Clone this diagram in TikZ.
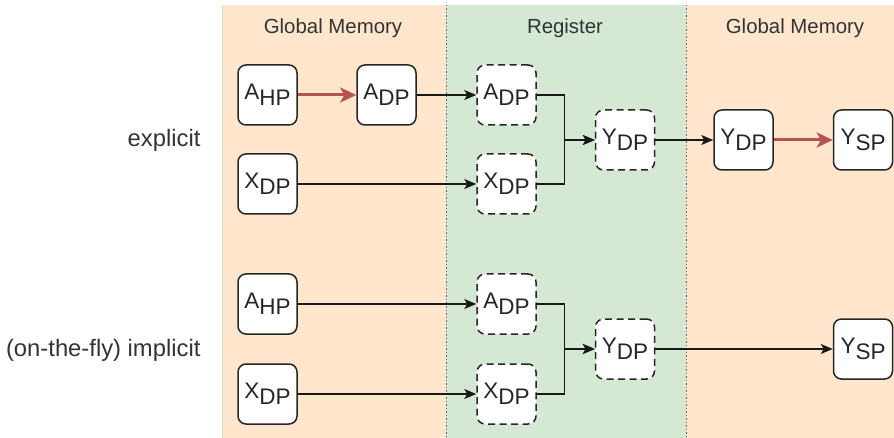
\documentclass[tikz,border=0pt]{standalone}
\usepackage{fontspec}
\setmainfont{Liberation Sans}
\usetikzlibrary{arrows.meta}
\definecolor{memfill}{HTML}{FFE6CC}
\definecolor{regfill}{HTML}{D5E8D4}
\definecolor{castred}{HTML}{B85450}
\definecolor{inkgray}{HTML}{333333}
\definecolor{sepgray}{HTML}{666666}

% value with a lowered (same-size) subscript
\newcommand{\vsub}[2]{#1\raisebox{-6.5pt}{#2}}

\begin{document}
\begin{tikzpicture}[x=1pt,y=-1pt,
  memnode/.style={draw=black!85, fill=white, rounded corners=8pt,
    minimum width=59pt, minimum height=60pt, inner sep=0pt,
    line width=1.5pt, text=black!85, font=\fontsize{22.5}{26}\selectfont},
  regnode/.style={memnode, dash pattern=on 7pt off 4.5pt},
  flow/.style={line width=1.4pt, draw=black!90,
    -{Stealth[length=12pt,width=10pt,inset=3pt]}},
  cast/.style={line width=3pt, draw=castred,
    -{Stealth[length=16pt,width=15pt,inset=4pt]}},
  title/.style={text=inkgray, font=\fontsize{20.4}{24}\selectfont},
  rowlabel/.style={text=inkgray, anchor=east, font=\fontsize{23.8}{28}\selectfont},
  separator/.style={draw=sepgray, line width=1pt, dash pattern=on 1.5pt off 2pt}
]
\useasboundingbox (0,0) rectangle (894,438);

% memory / register lanes
\fill[memfill] (222,5) rectangle (446,438);
\fill[regfill] (446,5) rectangle (686,438);
\fill[memfill] (686,5) rectangle (894,438);
\draw[black!15, line width=0.8pt] (222,5) -- (222,438);
\draw[separator] (446,5) -- (446,438);
\draw[separator] (686,5) -- (686,438);

% lane titles
\node[title] (t1) at (333,28) {Global Memory};
\node[title] (t2) at (565,28) {Register};
\node[title] (t3) at (795,28) {Global Memory};

% row labels
\node[rowlabel] (lex) at (204,140) {explicit};
\node[rowlabel] (lim) at (204,350) {(on-the-fly) implicit};

% explicit conversion
\node[memnode] (eAhp) at (267.5,95)  {\vsub{A}{HP}};
\node[memnode] (eAdp) at (386.5,95)  {\vsub{A}{DP}};
\node[memnode] (eXdp) at (267.5,184) {\vsub{X}{DP}};
\node[regnode] (eRA)  at (506.5,95)  {\vsub{A}{DP}};
\node[regnode] (eRX)  at (506.5,184) {\vsub{X}{DP}};
\node[regnode] (eRY)  at (625,140)   {\vsub{Y}{DP}};
\node[memnode] (eYdp) at (743.5,140) {\vsub{Y}{DP}};
\node[memnode] (eYsp) at (863,140)   {\vsub{Y}{SP}};

\draw[cast] (eAhp) -- (eAdp);
\draw[flow] (eAdp) -- (eRA);
\draw[flow] (eXdp) -- (eRX);
\draw[flow] (eRA.east) -- ++(28,0) |- (eRY.west);
\draw[flow] (eRX.east) -- ++(28,0) |- (eRY.west);
\draw[flow] (eRY) -- (eYdp);
\draw[cast] (eYdp) -- (eYsp);

% on-the-fly conversion
\node[memnode] (iAhp) at (267.5,304) {\vsub{A}{HP}};
\node[memnode] (iXdp) at (267.5,394) {\vsub{X}{DP}};
\node[regnode] (iRA)  at (506.5,304) {\vsub{A}{DP}};
\node[regnode] (iRX)  at (506.5,394) {\vsub{X}{DP}};
\node[regnode] (iRY)  at (625,349)   {\vsub{Y}{DP}};
\node[memnode] (iYsp) at (863,349)   {\vsub{Y}{SP}};

\draw[flow] (iAhp) -- (iRA);
\draw[flow] (iXdp) -- (iRX);
\draw[flow] (iRA.east) -- ++(28,0) |- (iRY.west);
\draw[flow] (iRX.east) -- ++(28,0) |- (iRY.west);
\draw[flow] (iRY) -- (iYsp);
\end{tikzpicture}
\end{document}
